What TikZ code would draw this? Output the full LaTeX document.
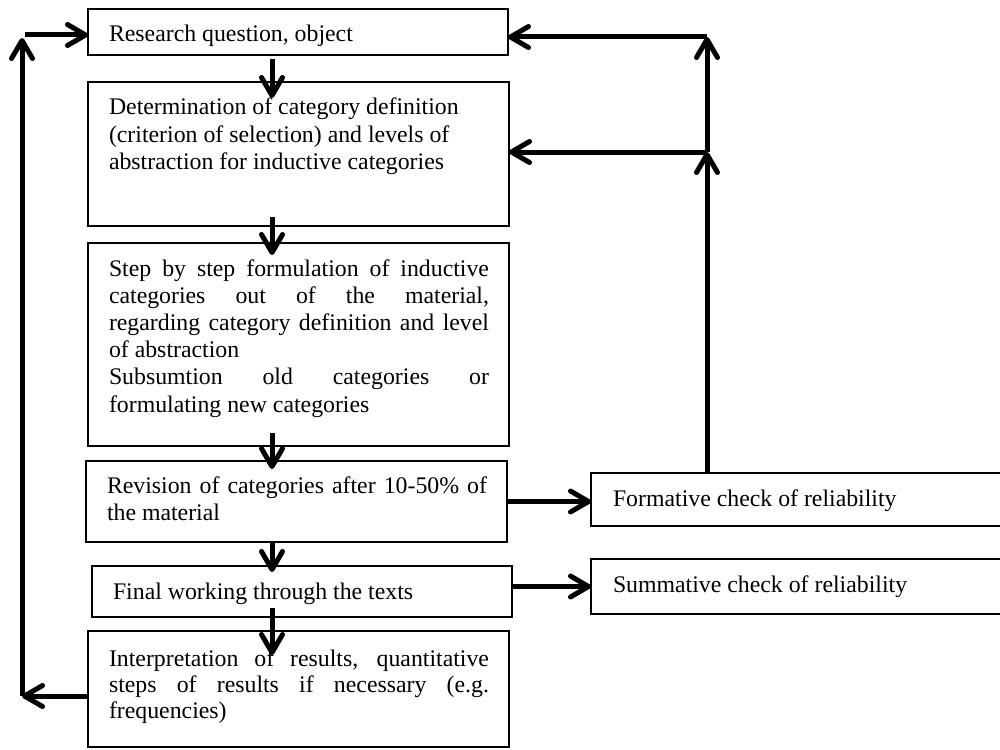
\documentclass[tikz,border=0pt]{standalone}
\usepackage{fontspec}
\setmainfont{Liberation Serif}
\usetikzlibrary{arrows.meta,fit}
% a justified line of fixed width, and a plain (last) line
\newcommand\justln[1]{\hbox to 190pt{#1}}
\newcommand\plainln[1]{\hbox{#1}}
\begin{document}
\begin{tikzpicture}[x=0.5pt,y=-0.5pt,
  box/.style={draw, line width=0.8pt, inner sep=0pt, outer sep=0pt},
  txt/.style={anchor=base west, inner sep=0pt, outer sep=0pt,
              font=\fontsize{11.9}{13.6}\selectfont},
  arr/.style={line width=2.5pt, -{Straight Barb[length=9pt,width=10.5pt,round]}},
]
\clip (0,0) rectangle (1000,749);

% main column of steps
\node[box, fit={(88,9)(508,55)}]    (b1) {};
\node[box, fit={(88,82)(509,226)}]  (b2) {};
\node[box, fit={(88,243)(509,446)}] (b3) {};
\node[box, fit={(86,461)(507,542)}] (b4) {};
\node[box, fit={(92,566)(512,617)}] (b5) {};
\node[box, fit={(88,631)(509,747)}] (b6) {};

% reliability checks
\node[box, fit={(591,473)(1020,526)}] (form) {};
\node[box, fit={(591,559)(1020,614)}] (summ) {};

% texts
\node[txt] (t1) at (109,42) {Research question, object};
\node[txt] (t2) at (109,114) {\vtop{\baselineskip=14pt
  \plainln{Determination of category definition}
  \plainln{(criterion of selection) and levels of}
  \plainln{abstraction for inductive categories}}};
\node[txt] (t3) at (109,276) {\vtop{\baselineskip=13.6pt
  \justln{Step by step formulation of inductive}
  \justln{categories out of the material,}
  \justln{regarding category definition and level}
  \plainln{of abstraction}
  \justln{Subsumtion old categories or}
  \plainln{formulating new categories}}};
\node[txt] (t4) at (107,493) {\vtop{\baselineskip=13.5pt
  \justln{Revision of categories after 10-50\% of}
  \plainln{the material}}};
\node[txt] (t5) at (113,599) {Final working through the texts};
\node[txt] (t6) at (109,666) {\vtop{\baselineskip=13pt
  \justln{Interpretation of results, quantitative}
  \justln{steps of results if necessary (e.g.}
  \plainln{frequencies)}}};
\node[txt] (t7) at (613,506) {Formative check of reliability};
\node[txt] (t8) at (613,592) {Summative check of reliability};

% downward flow, all on one vertical line
\coordinate (ax) at (272,0);
\draw[arr] ([yshift=-2pt]b1.south -| ax) -- ([yshift=-8pt]b2.north -| ax);
\draw[arr] ([yshift=4.5pt]b2.south -| ax) -- ([yshift=-6pt]b3.north -| ax);
\draw[arr] ([yshift=6.5pt]b3.south -| ax) -- ([yshift=-4pt]b4.north -| ax);
\draw[arr] ([yshift=-0.5pt]b4.south -| ax) -- ([yshift=-3pt]b5.north -| ax);
\draw[arr] ([yshift=4.5pt]b5.south -| ax) -- ([yshift=-12pt]b6.north -| ax);

% to the checks
\draw[arr] (b4.east) -- (b4.east -| form.west);
\draw[arr] (summ.west -| b5.east) -- (summ.west);

% feedback on the right
\coordinate (j1) at (707,37);
\coordinate (j2) at (707,152);
\draw[arr] (form.north -| j2) -- (j2);
\draw[arr] (j2) -- (j1);
\draw[arr] (j1) -- (j1 -| b1.east);
\draw[arr] (j2) -- (j2 -| b2.east);

% feedback loop on the left
\coordinate (l1) at (22,696);
\coordinate (l2) at (22,38);
\coordinate (l3) at (25,35);
\draw[arr] (b6.west |- l1) -- (l1);
\draw[arr] (l1) -- (l2);
\draw[arr] (l3) -- (l3 -| b1.west);
\end{tikzpicture}
\end{document}
